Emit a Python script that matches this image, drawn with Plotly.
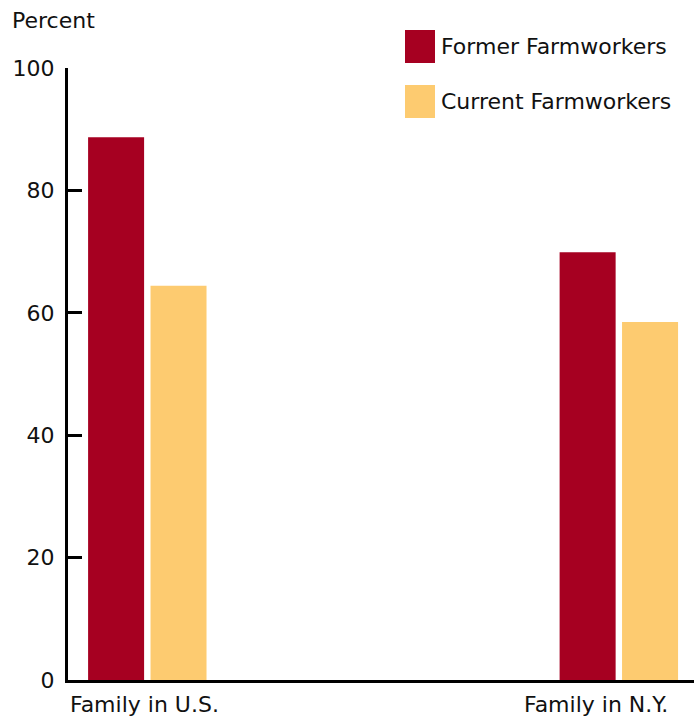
import plotly.graph_objects as go

categories = ["Family in U.S.", "Family in N.Y."]
former = [88.7, 69.9]
current = [64.4, 58.5]
series_names = ["Former Farmworkers", "Current Farmworkers"]
y_ticks = [0, 20, 40, 60, 80, 100]

RED = "#A60021"
YEL = "#FDCB70"
FONT = "DejaVu Sans"
FS = 22

fig = go.Figure()
fig.add_trace(go.Bar(x=categories, y=former, name=series_names[0], marker_color=RED,
                     marker_line_width=0, width=0.1188, offset=-0.1250, showlegend=False))
fig.add_trace(go.Bar(x=categories, y=current, name=series_names[1], marker_color=YEL,
                     marker_line_width=0, width=0.1188, offset=0.0074, showlegend=False))

fig.update_layout(
    width=694, height=717,
    margin=dict(l=68, r=0, t=68, b=37),
    plot_bgcolor="white", paper_bgcolor="white",
    font=dict(family=FONT, size=FS, color="#111111"),
    barmode="overlay",
    xaxis=dict(range=[-0.1676, 1.160], showticklabels=False, ticks="",
               showline=True, linecolor="black", linewidth=3, showgrid=False,
               zeroline=False),
    yaxis=dict(range=[0, 100], tickvals=y_ticks, ticks="inside", ticklen=14,
               tickwidth=3, tickcolor="black", showline=True, linecolor="black",
               linewidth=3, showgrid=False, zeroline=False, ticklabelstandoff=6,
               tickfont=dict(size=FS, family=FONT)),
)

# axis title and category labels
fig.add_annotation(text="Percent", xref="paper", yref="paper", x=-68/626, y=1 + 48/612,
                   xanchor="left", yanchor="middle", showarrow=False,
                   font=dict(size=FS, family=FONT), xshift=10)
fig.add_annotation(text=categories[0], xref="paper", yref="paper", x=0, y=0,
                   xanchor="left", yanchor="middle", yshift=-24, showarrow=False,
                   font=dict(size=FS, family=FONT))
fig.add_annotation(text=categories[1], xref="paper", yref="paper", x=(670 - 68) / 626, y=0,
                   xanchor="right", yanchor="middle", yshift=-24, showarrow=False,
                   font=dict(size=FS, family=FONT))

# custom legend
for i, (nm, col) in enumerate(zip(series_names, [RED, YEL])):
    y_top = 1 + (68 - 30 - 55 * i) / 612
    y_bot = 1 + (68 - 63 - 55 * i) / 612
    x0 = (405 - 68) / 626
    x1 = (435 - 68) / 626
    fig.add_shape(type="rect", xref="paper", yref="paper", x0=x0, x1=x1, y0=y_bot, y1=y_top,
                  fillcolor=col, line_width=0)
    fig.add_annotation(text=nm, xref="paper", yref="paper", x=(439 - 68) / 626,
                       y=(y_top + y_bot) / 2, xanchor="left", yanchor="middle",
                       showarrow=False, font=dict(size=FS, family=FONT))

fig.write_html("out.html", config={"displayModeBar": False},
               post_script="document.body.style.margin='0';document.body.style.overflow='hidden';")
